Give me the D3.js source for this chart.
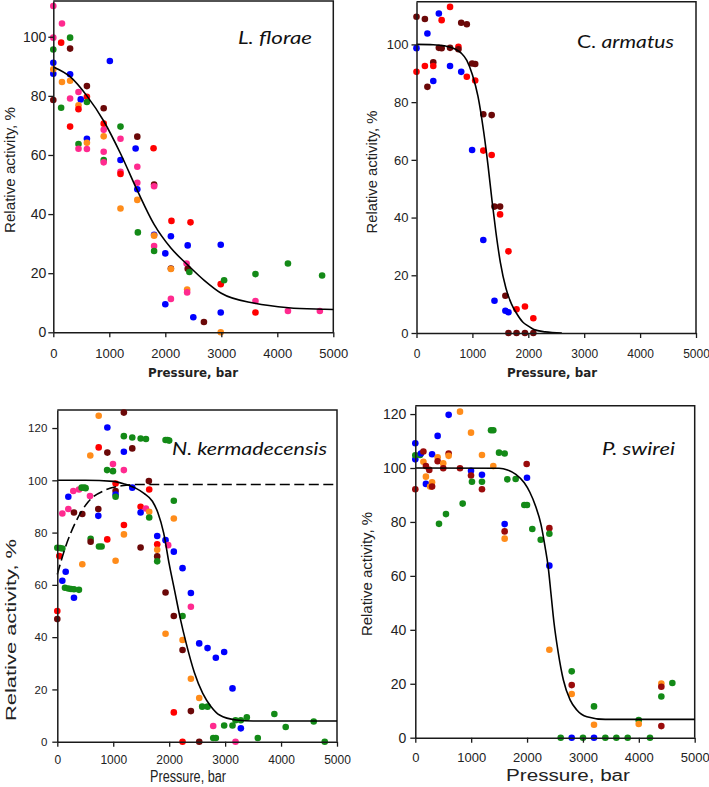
<!DOCTYPE html>
<html><head><meta charset="utf-8">
<script src="https://cdn.jsdelivr.net/npm/d3@7"></script>
<style>body{margin:0;background:#fff} svg{display:block}</style>
</head><body>
<svg id="c" width="709" height="787"></svg>
<script>
// ---------- DATA ----------
const pressureTicks = [0, 1000, 2000, 3000, 4000, 5000];
const activityTicksTop = [0, 20, 40, 60, 80, 100];
const activityTicksBottom = [0, 20, 40, 60, 80, 100, 120];
const speciesNames = ["L. florae", "C. armatus", "N. kermadecensis", "P. swirei"];
const xTitle = "Pressure, bar";
const yTitle = "Relative activity, %";
// series codes: R red, P pink, B blue, G green, O orange, M dark red
const floraePoints = [
 [0,110.4,"P"],[155,104.5,"P"],[0,99.7,"P"],[300,99.7,"G"],[140,98,"R"],[0,95.7,"G"],[300,96,"M"],
 [0,91.2,"B"],[0,87.5,"B"],[1010,91.8,"B"],[0,89,"O"],[155,84.7,"O"],[300,87.3,"B"],[300,85.1,"O"],
 [0,78.6,"M"],[140,76,"G"],[300,79.1,"P"],[450,81.3,"P"],[490,78.8,"B"],[600,83.3,"M"],[600,79.7,"R"],
 [600,77.9,"G"],[450,76.8,"O"],[450,75.5,"R"],[300,69.6,"R"],[450,63.7,"G"],[450,62.1,"P"],[600,65.5,"B"],
 [600,64.1,"O"],[600,62,"P"],[900,75.8,"M"],[900,70.6,"R"],[900,68.5,"P"],[900,66.3,"O"],[900,58.3,"G"],
 [900,57.5,"P"],[900,61.1,"P"],[1200,69.6,"G"],[1200,65.5,"P"],[1200,58.3,"B"],[1200,54.3,"P"],[1200,53.6,"R"],
 [1200,41.9,"O"],[1500,66.2,"M"],[1470,62.2,"B"],[1500,56,"P"],[1500,50.6,"P"],[1500,48.4,"B"],[1500,44.8,"O"],
 [1510,33.8,"G"],[1790,62.3,"R"],[1800,50,"M"],[1800,49.4,"P"],[1800,33,"B"],[1800,32.7,"O"],[1800,29.2,"P"],
 [1800,27.5,"G"],[2110,37.7,"R"],[2100,32.5,"B"],[2000,26.7,"B"],[2100,21.6,"M"],[2100,21.4,"O"],[2100,11.3,"P"],
 [2000,9.5,"B"],[2450,37.2,"R"],[2400,29.4,"B"],[2990,29.6,"B"],[2380,23.3,"P"],[2400,21.5,"M"],[2430,20.4,"G"],
 [2990,16.3,"R"],[3050,17.6,"G"],[3610,19.7,"G"],[4190,23.3,"G"],[4800,19.2,"G"],[2390,14.5,"O"],[2390,13.5,"P"],
 [3610,10.6,"P"],[3610,6.7,"R"],[4190,7.2,"P"],[4760,7.2,"P"],[2500,5.1,"B"],[2690,3.5,"M"],[2990,6.7,"B"],[2990,0,"O"]
];
const floraeFit = [[0,89.8],[300,86.5],[600,80],[900,71.5],[1200,60.5],[1500,48],[1800,36.5],[2100,28.5],
 [2400,22.8],[2700,17.5],[3000,13.2],[3600,9.8],[4200,8.3],[4800,7.8],[5000,7.7]];

const armatusPoints = [
 [0,109.6,"M"],[0,90.5,"R"],[0,98.7,"B"],[150,108.8,"M"],[195,103.8,"B"],[150,92.5,"R"],[195,85.3,"M"],
 [300,93.8,"M"],[300,92.5,"R"],[300,87.3,"B"],[400,110.7,"B"],[450,108.4,"R"],[400,98.8,"M"],[450,98.7,"M"],
 [600,113,"R"],[600,98.8,"M"],[600,92.5,"B"],[800,107.5,"M"],[900,107,"M"],[750,99.2,"R"],[750,98.3,"M"],
 [800,90.5,"B"],[900,88.8,"R"],[995,93.4,"M"],[1050,93.2,"M"],[1050,87.5,"R"],[995,63.4,"B"],[1195,75.8,"M"],
 [1345,75.5,"M"],[1195,63.2,"R"],[1345,61.7,"R"],[1195,32.2,"B"],[1395,43.8,"M"],[1495,43.8,"M"],[1495,41.1,"R"],
 [1645,28.3,"R"],[1395,11.2,"B"],[1590,12.9,"M"],[1590,7.7,"B"],[1645,7.2,"B"],[1645,0,"M"],[1790,8.2,"R"],
 [1790,0,"M"],[1940,9.2,"R"],[1940,0,"M"],[2090,0,"M"],[2090,5.1,"R"]
];
const armatusFit = [[0,100],[300,99.9],[500,99.5],[700,98.3],[800,97],[900,94.5],[1000,89.5],[1100,82],
 [1200,70],[1280,58],[1350,46],[1420,35],[1500,24.5],[1600,15.5],[1700,10],[1800,6.5],[1900,3.8],[2000,2.4],
 [2100,1.2],[2300,0.4],[2600,0]];

const kermadecensisPoints = [
 [740,124.7,"O"],[1190,125.9,"M"],[895,120.2,"B"],[740,112.6,"R"],[895,110.6,"M"],[1190,110.9,"B"],[1340,112.2,"M"],
 [1190,116.9,"G"],[1340,116.4,"G"],[1490,116,"G"],[1585,115.8,"G"],[1935,115.4,"G"],[1970,115.4,"G"],[2000,115.2,"G"],
 [590,109.5,"O"],[995,106.2,"P"],[890,103.9,"G"],[995,103.5,"G"],[1190,103.9,"P"],[1042,98.8,"R"],[1637,99.7,"M"],
 [1042,95.9,"M"],[1042,94.6,"B"],[1042,93.7,"G"],[1340,97.2,"B"],[1643,96.5,"R"],[286,95.9,"P"],[388,96.5,"P"],
 [435,97.2,"G"],[483,97.2,"G"],[506,97,"G"],[197,93.7,"B"],[584,94,"P"],[90,87.3,"P"],[197,89,"P"],[298,87.7,"M"],
 [447,87.1,"M"],[733,89,"M"],[733,86.4,"B"],[1489,89.9,"R"],[1584,89.2,"P"],[1489,87.7,"B"],[1643,88,"O"],
 [1643,85.8,"G"],[1191,82.9,"R"],[1191,79.3,"O"],[596,77.6,"G"],[596,76.5,"M"],[893,77.4,"R"],[745,74.7,"G"],
 [792,74.7,"G"],[1489,74.3,"M"],[0,74.2,"G"],[48,74.1,"G"],[90,73.9,"G"],[36,71,"R"],[1042,69.2,"O"],[447,67.9,"O"],
 [150,65,"B"],[90,61.6,"B"],[137,58.9,"G"],[197,58.6,"G"],[245,58.4,"G"],[298,58.3,"G"],[387,58.1,"G"],[298,55.1,"B"],
 [0,50,"R"],[0,46.9,"M"],[1786,78.7,"B"],[1786,75.5,"R"],[1786,73.4,"O"],[1786,70.9,"M"],[1786,69,"G"],[1935,77.1,"B"],
 [1982,75.2,"P"],[2083,72.7,"B"],[2083,92.2,"G"],[2083,85.4,"O"],[1935,57.1,"M"],[2083,48.1,"M"],[1935,41.3,"O"],
 [2083,11.2,"R"],[2239,66.4,"B"],[2388,56.9,"B"],[2388,51.6,"P"],[2239,48.1,"G"],[2239,38.9,"O"],[2239,35.1,"M"],
 [2388,24.1,"O"],[2537,37.6,"B"],[2686,35.8,"B"],[2834,32.1,"B"],[2983,34.3,"B"],[3132,20.4,"B"],[2537,16.7,"O"],
 [2590,13.4,"G"],[2686,13.4,"G"],[2388,11.7,"M"],[2787,6,"P"],[2787,1.4,"G"],[2834,1.4,"G"],[2983,6.2,"G"],
 [3132,6.2,"G"],[3186,8.2,"G"],[3281,8.2,"G"],[3388,9.3,"G"],[3281,5.1,"B"],[3880,10.6,"G"],[4083,5.6,"G"],
 [3584,1.4,"G"],[4584,7.7,"G"],[4781,0,"G"],[2239,0,"R"],[2537,0,"M"],[3186,0,"P"]
];
const kermadecensisFit = [[0,100],[500,100],[1000,99.6],[1200,98.6],[1400,97],[1550,95],[1700,92],[1800,87.5],
 [1900,80],[2000,68],[2100,57.5],[2200,47],[2300,38],[2450,26.5],[2600,18.5],[2750,13.4],[2900,10.2],[3200,8.3],
 [3500,7.9],[5000,7.9]];
const kermadecensisDashed = [[0,64],[137,73.9],[316,83.5],[554,91.8],[852,96.2],[1150,97.9],[1400,98.4],[5000,98.4]];

const swireiPoints = [
 [0,109.2,"B"],[0,103.2,"B"],[0,92.1,"M"],[0,104.7,"G"],[85,104.8,"G"],[100,105.4,"B"],[145,106.1,"M"],[145,102.3,"O"],
 [190,100.7,"M"],[190,96.8,"O"],[190,94.1,"B"],[250,99.3,"M"],[265,93.1,"O"],[300,94.7,"O"],[300,93.1,"M"],[300,105.1,"B"],
 [400,111.9,"B"],[400,104,"O"],[400,102.5,"M"],[500,101.7,"O"],[500,99.9,"M"],[597,119.7,"B"],[597,105.4,"M"],
 [597,104.5,"O"],[424,79.3,"G"],[549,82.9,"G"],[800,120.9,"O"],[800,99.9,"M"],[848,86.8,"G"],[997,113.1,"O"],
 [997,99,"B"],[997,97.2,"M"],[1014,94.9,"G"],[1193,104.8,"O"],[1193,97.5,"B"],[1193,94.9,"G"],[1193,92.1,"M"],
 [1355,114,"G"],[1396,114,"G"],[1396,100.7,"O"],[1498,105.7,"G"],[1599,105.4,"G"],[1647,95.8,"G"],[1796,95.9,"G"],
 [1599,79.2,"B"],[1599,76.5,"M"],[1599,73.8,"O"],[1951,86.3,"G"],[1999,86.3,"G"],[1999,96.4,"B"],[1993,101.5,"M"],
 [2094,77.4,"G"],[2244,73.4,"G"],[2399,77.7,"M"],[2399,75.6,"G"],[2399,63.8,"B"],[2399,32.6,"O"],[2799,24.6,"G"],
 [2799,19.5,"M"],[2799,16.2,"O"],[3198,11.6,"G"],[3198,4.8,"O"],[3998,6.5,"G"],[3998,5.1,"O"],[4403,20.1,"O"],
 [4403,18.9,"M"],[4403,15.3,"G"],[4403,4.3,"M"],[4600,20.3,"G"],[2602,0,"G"],[3001,0,"G"],[3401,0,"G"],[3598,0,"G"],
 [3801,0,"G"],[4200,0,"G"],[2799,0,"B"],[3198,0,"B"]
];
const swireiFit = [[0,100],[1500,99.9],[1650,99.3],[1800,97.6],[1950,94.5],[2050,91],[2150,86],[2250,79],[2320,71],
 [2380,63],[2430,53],[2480,43],[2560,31.3],[2650,21.4],[2770,14],[2890,10.3],[3070,7.8],[3400,6.8],[5000,6.8]];

// ---------- STYLE / LAYOUT ----------
const baseColors = {R:"#ff0000",P:"#ff2a8f",B:"#0000ff",G:"#138a17",O:"#ff8c1a",M:"#6b0808"};
const swireiColors = Object.assign({}, baseColors, {M:"#9a0b0b"});
const tickFont = "'Liberation Sans', Arial, sans-serif";
const titleFont = "Lato, 'Open Sans', sans-serif";

const panels = [
 {name:speciesNames[0], points:floraePoints, fit:floraeFit, colors:baseColors,
  left:53.3, right:333.3, bottom:332.3, top:1, ymax:112.1, yTicks:activityTicksTop,
  yFont:14, yLabX:-7, xFont:13, xLabY:16,
  xt:{x:193, y:377, size:13, weight:"bold", len:90, font:"'DejaVu Sans', sans-serif"},
  yt:{x:15, y:170, size:14, len:126},
  title:{x:238, y:44, size:18, len:74, upright:"", italic:"L. florae"}},
 {name:speciesNames[1], points:armatusPoints, fit:armatusFit, colors:baseColors,
  left:416.5, right:696, bottom:333, top:1.7, ymax:114.8, yTicks:activityTicksTop,
  yFont:13, yLabX:-8, xFont:12, xLabY:16,
  xt:{x:552, y:377, size:13, weight:"bold", len:90, font:"'DejaVu Sans', sans-serif"},
  yt:{x:377, y:172, size:14, len:123},
  title:{x:577, y:48, size:18, len:97, upright:"C. ", italic:"armatus"}},
 {name:speciesNames[2], points:kermadecensisPoints, fit:kermadecensisFit, dashed:kermadecensisDashed, colors:baseColors,
  left:57.3, right:337, bottom:741.7, top:410, ymax:126.9, yTicks:activityTicksBottom,
  yFont:11.5, yLabX:-10, xFont:12, xLabY:14,
  xt:{x:188, y:782, size:16, weight:"normal", len:76, font:tickFont},
  yt:{x:16, y:630, size:15, len:182},
  title:{x:172, y:455, size:18, len:155, upright:"", italic:"N. kermadecensis"}},
 {name:speciesNames[3], points:swireiPoints, fit:swireiFit, colors:swireiColors,
  left:415.3, right:694.7, bottom:737.7, top:405.7, ymax:123.1, yTicks:activityTicksBottom,
  yFont:14, yLabX:-9, xFont:13, xLabY:15.4,
  xt:{x:568, y:781, size:16, weight:"normal", len:124, font:tickFont},
  yt:{x:372, y:574, size:15, len:124},
  title:{x:602, y:455, size:18, len:73, upright:"", italic:"P. swirei"}}
];

const svg = d3.select("#c");
svg.append("rect").attr("width",709).attr("height",787).attr("fill","#fff");

panels.forEach(cfg => {
  const x = d3.scaleLinear().domain([0,5000]).range([cfg.left,cfg.right]);
  const y = d3.scaleLinear().domain([0,cfg.ymax]).range([cfg.bottom,cfg.top]);
  const g = svg.append("g");

  g.append("path")
    .attr("d", `M${cfg.left},${cfg.top}H${cfg.right}V${cfg.bottom}`)
    .attr("fill","none").attr("stroke","#1a1a1a").attr("stroke-width",1.5);

  g.append("g").selectAll("circle").data(cfg.points).join("circle")
    .attr("cx", d => x(d[0])).attr("cy", d => y(d[1])).attr("r", 3.3)
    .attr("fill", d => cfg.colors[d[2]]);

  const line = d3.line().x(d => x(d[0])).y(d => y(d[1])).curve(d3.curveMonotoneX);
  g.append("path").attr("d", line(cfg.fit)).attr("fill","none")
    .attr("stroke","#000").attr("stroke-width",1.6);
  if (cfg.dashed) {
    g.append("path").attr("d", line(cfg.dashed)).attr("fill","none")
      .attr("stroke","#000").attr("stroke-width",1.6).attr("stroke-dasharray","10,4.5");
  }

  const xa = g.append("g").attr("transform",`translate(0,${cfg.bottom})`)
    .call(d3.axisBottom(x).tickValues(pressureTicks).tickSize(5).tickSizeOuter(0).tickFormat(d3.format("d")));
  const ya = g.append("g").attr("transform",`translate(${cfg.left},0)`)
    .call(d3.axisLeft(y).tickValues(cfg.yTicks).tickSize(5).tickSizeOuter(0).tickFormat(d3.format("d")));
  [xa, ya].forEach(a => {
    a.select(".domain").attr("stroke","#1a1a1a").attr("stroke-width",1.5);
    a.selectAll(".tick line").attr("stroke","#1a1a1a").attr("stroke-width",1.3);
    a.selectAll(".tick text").attr("fill","#222").attr("font-family",tickFont);
  });
  xa.selectAll(".tick text").attr("font-size",cfg.xFont).attr("y",cfg.xLabY);
  ya.selectAll(".tick text").attr("font-size",cfg.yFont).attr("x",cfg.yLabX);

  g.append("text").attr("x",cfg.xt.x).attr("y",cfg.xt.y).attr("text-anchor","middle")
    .attr("font-family",cfg.xt.font).attr("font-size",cfg.xt.size).attr("font-weight",cfg.xt.weight)
    .attr("fill","#222").attr("textLength",cfg.xt.len).attr("lengthAdjust","spacingAndGlyphs")
    .text(xTitle);
  g.append("text").attr("transform",`translate(${cfg.yt.x},${cfg.yt.y}) rotate(-90)`).attr("text-anchor","middle")
    .attr("font-family",tickFont).attr("font-size",cfg.yt.size).attr("fill","#222")
    .attr("textLength",cfg.yt.len).attr("lengthAdjust","spacingAndGlyphs")
    .text(yTitle);

  const t = g.append("text").attr("x",cfg.title.x).attr("y",cfg.title.y)
    .attr("font-family",titleFont).attr("font-size",cfg.title.size).attr("fill","#111")
    .attr("textLength",cfg.title.len).attr("lengthAdjust","spacingAndGlyphs");
  if (cfg.title.upright) t.append("tspan").text(cfg.title.upright);
  t.append("tspan").attr("font-style","italic").text(cfg.title.italic);
});
</script>
</body></html>
